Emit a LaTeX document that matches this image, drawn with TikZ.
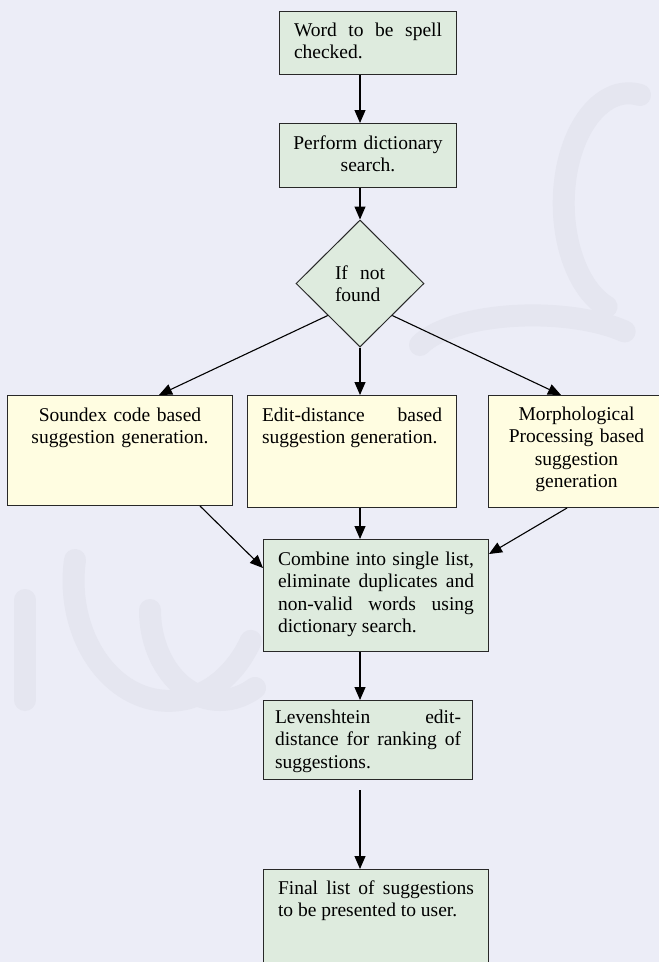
\documentclass[tikz,border=0pt]{standalone}
\usepackage{fontspec}
\setmainfont{Liberation Serif}
\usetikzlibrary{shapes.geometric,arrows.meta,calc}
\definecolor{bgc}{RGB}{236,237,247}
\definecolor{wmk}{RGB}{229,230,240}
\definecolor{grn}{RGB}{222,235,222}
\definecolor{ylw}{RGB}{255,253,225}
\definecolor{edgec}{RGB}{40,40,40}
\tikzset{
  txt/.style={font=\fontsize{19.5}{22.3}\selectfont},
  bx/.style={draw=edgec, line width=1pt, anchor=north west, inner ysep=0pt, txt},
  gbox/.style={bx, fill=grn},
  ybox/.style={bx, fill=ylw},
  arr/.style={-{Triangle[length=13pt,width=11pt]}, line width=1.1pt, black},
  wm/.style={draw=wmk, line width=22pt, line cap=round}
}
\begin{document}
\tolerance=10000
\hyphenpenalty=10000
\begin{tikzpicture}[x=1pt,y=-1pt]
\useasboundingbox (0,0) rectangle (659,962);
\fill[bgc] (0,0) rectangle (659,962);
% faint watermark swirls
\draw[wm] (640,95) arc[start angle=-80, end angle=-250, x radius=65, y radius=110];
\draw[wm] (420,345) arc[start angle=-160, end angle=-40, x radius=120, y radius=45];
\draw[wm] (75,560) arc[start angle=-170, end angle=-330, x radius=95, y radius=120];
\draw[wm] (150,610) arc[start angle=-180, end angle=-300, x radius=70, y radius=90];
\draw[wm] (25,600) -- (25,700);

\node[gbox, text width=148pt, inner xsep=14.5pt, text height=25pt, text depth=38pt, align=justify] (b1) at (279,11) {Word to be spell checked.};
\node[gbox, text width=160pt, inner xsep=8.5pt, text height=26pt, text depth=38pt, align=center] (b2) at (279,123) {Perform dictionary\\search.};
\node[diamond, draw=edgec, fill=grn, line width=1pt, minimum width=128pt, minimum height=127pt, inner sep=0pt, text width=50pt, align=justify, txt] (dia) at (360,283.5) {If not found};

\node[ybox, text width=196pt, inner xsep=14.5pt, text height=26pt, text depth=84pt, align=center] (snd) at (7,395) {Soundex code based\\suggestion generation.};
\node[ybox, text width=180pt, inner xsep=14.5pt, text height=26pt, text depth=86pt, align=justify] (edit) at (247,395) {Edit-distance based suggestion generation.};
\node[ybox, text width=160pt, inner xsep=8pt, text height=25pt, text depth=87pt, align=center] (mor) at (488,395) {Morphological\\Processing based\\suggestion\\generation};

\node[gbox, text width=196pt, inner xsep=14.5pt, text height=26pt, text depth=86pt, align=justify] (comb) at (263,539) {Combine into single list, eliminate duplicates and non-valid words using dictionary search.};
\node[gbox, text width=186pt, inner xsep=11.5pt, text height=23pt, text depth=56pt, align=justify] (lev) at (263,700) {Levenshtein edit-\linebreak distance for ranking of\linebreak suggestions.};
\node[gbox, text width=196pt, inner xsep=14.5pt, text height=25pt, text depth=105pt, align=justify] (fin) at (263,869) {Final list of suggestions to be presented to user.};

\draw[arr] (b1.south -| dia.north) -- (b2.north -| dia.north);
\draw[arr] (b2.south -| dia.north) -- (dia.north);
\draw[arr] (dia.south) -- (dia.south |- edit.north);
\draw[arr] (dia.south west) -- ([xshift=152pt]snd.north west);
\draw[arr] (dia.south east) -- ([xshift=73pt]mor.north west);
\draw[arr] ([xshift=193pt]snd.south west) -- ([yshift=-29pt]comb.north west);
\draw[arr] (edit.south -| dia.south) -- (comb.north -| dia.south);
\draw[arr] ([xshift=79pt]mor.south west) -- ([yshift=-15pt]comb.north east);
\draw[arr] (comb.south -| dia.south) -- (lev.north -| dia.south);
\draw[arr, shorten <=10pt] (lev.south -| dia.south) -- (fin.north -| dia.south);
\end{tikzpicture}
\end{document}
